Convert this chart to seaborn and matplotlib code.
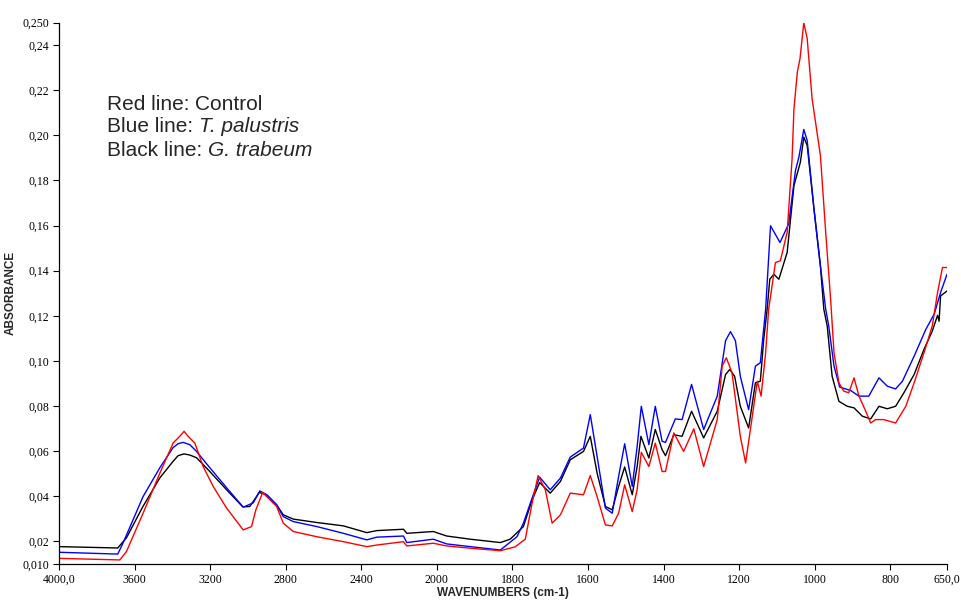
import numpy as np
import pandas as pd
import matplotlib
matplotlib.use("Agg")
import matplotlib.pyplot as plt
import seaborn as sns

# ---- data (wavenumber cm-1, absorbance) ----
wn_black = [4000, 3689, 3643, 3557, 3466, 3398, 3370, 3339, 3308, 3272, 3202, 3113, 3027, 2990,
            2940, 2901, 2848, 2813, 2760, 2636, 2495, 2371, 2318, 2177, 2159, 2019, 1974, 1912,
            1832, 1806, 1771, 1748, 1728, 1700, 1673, 1647, 1612, 1594, 1576, 1554, 1536, 1519,
            1503, 1483, 1470, 1460, 1439, 1422, 1404, 1395, 1373, 1351, 1326, 1294, 1258, 1236,
            1225, 1212, 1197, 1175, 1157, 1144, 1135, 1126, 1119, 1108, 1095, 1073, 1055, 1038,
            1029, 1020, 1002, 985, 976, 967, 954, 936, 914, 896, 874, 852, 830, 808, 786, 764,
            737, 711, 689, 675, 671, 667, 650]
abs_black = [0.0177, 0.0171, 0.0216, 0.0353, 0.0482, 0.0553, 0.0580, 0.0588, 0.0583, 0.0571,
             0.0510, 0.0429, 0.0353, 0.0355, 0.0417, 0.0407, 0.0362, 0.0318, 0.0299, 0.0284,
             0.0269, 0.0239, 0.0248, 0.0254, 0.0236, 0.0244, 0.0224, 0.0210, 0.0195, 0.0210,
             0.0266, 0.0384, 0.0461, 0.0414, 0.0466, 0.0562, 0.0599, 0.0666, 0.0503, 0.0355,
             0.0340, 0.0444, 0.0530, 0.0407, 0.0532, 0.0666, 0.0570, 0.0696, 0.0607, 0.0580,
             0.0673, 0.0666, 0.0777, 0.0659, 0.0777, 0.0940, 0.0962, 0.0932, 0.0799, 0.0703,
             0.0903, 0.0910, 0.1096, 0.1229, 0.1362, 0.1384, 0.1362, 0.1481, 0.1777, 0.1881,
             0.1992, 0.1955, 0.1673, 0.1421, 0.1229, 0.1155, 0.0932, 0.0821, 0.0799, 0.0792,
             0.0755, 0.0743, 0.0799, 0.0788, 0.0799, 0.0859, 0.0940, 0.1051, 0.1132, 0.1202,
             0.1176, 0.1288, 0.1310]

wn_blue = [4000, 3689, 3661, 3555, 3466, 3396, 3370, 3343, 3308, 3272, 3202, 3113, 3025, 2972,
           2937, 2901, 2848, 2813, 2760, 2636, 2495, 2371, 2318, 2177, 2159, 2019, 1974, 1912,
           1832, 1788, 1771, 1748, 1728, 1700, 1673, 1647, 1612, 1594, 1576, 1554, 1536, 1519,
           1503, 1483, 1470, 1459, 1439, 1422, 1404, 1395, 1369, 1351, 1326, 1294, 1258, 1236,
           1223, 1210, 1197, 1175, 1157, 1144, 1130, 1117, 1092, 1069, 1051, 1042, 1029, 1020,
           1002, 985, 971, 963, 949, 934, 905, 883, 857, 830, 808, 786, 768, 737, 706, 684, 667,
           650]
abs_blue = [0.0152, 0.0144, 0.0193, 0.0399, 0.0527, 0.0616, 0.0633, 0.0639, 0.0629, 0.0599,
            0.0527, 0.0438, 0.0352, 0.0371, 0.0424, 0.0407, 0.0362, 0.0310, 0.0288, 0.0266,
            0.0236, 0.0207, 0.0219, 0.0224, 0.0195, 0.0210, 0.0189, 0.0177, 0.0162, 0.0221,
            0.0281, 0.0392, 0.0485, 0.0429, 0.0481, 0.0574, 0.0614, 0.0762, 0.0577, 0.0348,
            0.0325, 0.0488, 0.0633, 0.0444, 0.0621, 0.0799, 0.0629, 0.0799, 0.0644, 0.0639,
            0.0743, 0.0740, 0.0896, 0.0696, 0.0844, 0.1090, 0.1130, 0.1090, 0.0932, 0.0784,
            0.0977, 0.0992, 0.1229, 0.1599, 0.1525, 0.1607, 0.1844, 0.1903, 0.2026, 0.1977,
            0.1673, 0.1421, 0.1229, 0.1155, 0.0977, 0.0884, 0.0869, 0.0844, 0.0844, 0.0925,
            0.0888, 0.0876, 0.0910, 0.1021, 0.1140, 0.1207, 0.1303, 0.1384]

wn_red = [4000, 3678, 3643, 3555, 3466, 3396, 3361, 3338, 3317, 3281, 3237, 3184, 3113, 3025,
          2981, 2958, 2922, 2901, 2848, 2813, 2760, 2636, 2495, 2371, 2318, 2177, 2159, 2019,
          1974, 1912, 1832, 1793, 1766, 1748, 1732, 1713, 1695, 1673, 1647, 1612, 1594, 1576,
          1554, 1536, 1519, 1503, 1483, 1470, 1459, 1439, 1422, 1404, 1395, 1373, 1347, 1320,
          1294, 1258, 1245, 1234, 1219, 1197, 1183, 1152, 1142, 1130, 1122, 1104, 1091, 1073,
          1060, 1055, 1046, 1039, 1029, 1020, 1007, 998, 985, 971, 958, 949, 936, 923, 910, 896,
          883, 865, 852, 839, 817, 786, 759, 737, 711, 689, 675, 662, 650]
abs_red = [0.0125, 0.0118, 0.0155, 0.0325, 0.0503, 0.0636, 0.0666, 0.0688, 0.0666, 0.0636,
           0.0532, 0.0444, 0.0348, 0.0251, 0.0266, 0.0340, 0.0417, 0.0399, 0.0355, 0.0281,
           0.0244, 0.0221, 0.0199, 0.0177, 0.0184, 0.0199, 0.0180, 0.0192, 0.0180, 0.0170,
           0.0159, 0.0176, 0.0210, 0.0370, 0.0492, 0.0429, 0.0281, 0.0318, 0.0414, 0.0407,
           0.0492, 0.0399, 0.0273, 0.0269, 0.0325, 0.0451, 0.0332, 0.0429, 0.0595, 0.0532,
           0.0636, 0.0510, 0.0510, 0.0681, 0.0599, 0.0699, 0.0532, 0.0740, 0.0977, 0.1014,
           0.0948, 0.0666, 0.0548, 0.0910, 0.0844, 0.1036, 0.1229, 0.1436, 0.1444, 0.1570,
           0.1896, 0.2118, 0.2281, 0.2340, 0.2499, 0.2429, 0.2162, 0.2059, 0.1910, 0.1570,
           0.1273, 0.1036, 0.0903, 0.0866, 0.0859, 0.0925, 0.0844, 0.0777, 0.0725, 0.0740,
           0.0740, 0.0725, 0.0799, 0.0903, 0.1036, 0.1155, 0.1303, 0.1414, 0.1414]

series_names = ["G. trabeum", "T. palustris", "Control"]
series_colors = ["#000000", "#0000ff", "#ff0000"]

note_prefix = ["Red line: ", "Blue line: ", "Black line: "]
note_names = ["Control", "T. palustris", "G. trabeum"]
note_italic = [False, True, True]

x_ticks = [4000, 3600, 3200, 2800, 2400, 2000, 1800, 1600, 1400, 1200, 1000, 800, 650]
x_tick_labels = ["4000,0", "3600", "3200", "2800", "2400", "2000", "1800", "1600", "1400",
                 "1200", "1000", "800", "650,0"]
y_ticks = [0.010, 0.02, 0.04, 0.06, 0.08, 0.10, 0.12, 0.14, 0.16, 0.18, 0.20, 0.22, 0.24, 0.250]
y_tick_labels = ["0,010", "0,02", "0,04", "0,06", "0,08", "0,10", "0,12", "0,14", "0,16",
                 "0,18", "0,20", "0,22", "0,24", "0,250"]

frames = []
for name, w, a in [(series_names[0], wn_black, abs_black),
                   (series_names[1], wn_blue, abs_blue),
                   (series_names[2], wn_red, abs_red)]:
    frames.append(pd.DataFrame({"wn": w, "abs": a, "sample": name}))
df = pd.concat(frames, ignore_index=True)

sns.set_theme(style="ticks")
plt.rcParams["font.family"] = ["Liberation Sans", "DejaVu Sans"]

fig = plt.figure(figsize=(9.62, 6.01), dpi=100)
W, H = 962, 601
ax = fig.add_axes([59 / W, 1 - 564 / H, 888 / W, (564 - 22.5) / H])


def fwd(w):
    w = np.asarray(w, dtype=float)
    return np.where(w > 2000, 2000 + (w - 2000) / 2.0, w)


def inv(v):
    v = np.asarray(v, dtype=float)
    return np.where(v > 2000, 2000 + 2.0 * (v - 2000), v)


ax.set_xscale("function", functions=(fwd, inv))

sns.lineplot(data=df, x="wn", y="abs", hue="sample", hue_order=series_names,
             palette=dict(zip(series_names, series_colors)), estimator=None,
             linewidth=1.0, legend=False, ax=ax)

ax.set_xlim(4000, 650)
ax.set_ylim(0.010, 0.250)
ax.set_xticks(x_ticks)
ax.set_xticklabels(x_tick_labels, family="Liberation Serif", fontsize=8.5)
ax.set_yticks(y_ticks)
ax.set_yticklabels(y_tick_labels, family="Liberation Serif", fontsize=8.5)
ax.minorticks_off()
ax.tick_params(axis="both", direction="out", length=4, width=0.8, color="black",
               labelcolor="black", pad=3)
for side in ["top", "right"]:
    ax.spines[side].set_visible(False)
for side in ["left", "bottom"]:
    ax.spines[side].set_color("black")
    ax.spines[side].set_linewidth(0.9)
ax.set_facecolor("white")
ax.grid(False)

ax.set_xlabel("WAVENUMBERS (cm-1)", fontsize=8.5, fontweight="bold", labelpad=1)
ax.set_ylabel("ABSORBANCE", fontsize=8.5, fontweight="bold", labelpad=4)

renderer = fig.canvas.get_renderer()
for i, (pre, nm, it) in enumerate(zip(note_prefix, note_names, note_italic)):
    yfrac = 1 - (104 + 23 * i) / H
    t1 = fig.text(107 / W, yfrac, pre, fontsize=15, va="baseline", ha="left")
    bb = t1.get_window_extent(renderer=renderer)
    x2 = bb.x1 / fig.bbox.width
    fig.text(x2, yfrac, nm, fontsize=15, va="baseline", ha="left",
             style="italic" if it else "normal")
# shift baseline: texts placed with baseline; adjust positions so centers match reference
for t in fig.texts:
    x, y = t.get_position()
    t.set_position((x, y - 5.5 / H))

fig.savefig("out.png", dpi=100, facecolor="white")
